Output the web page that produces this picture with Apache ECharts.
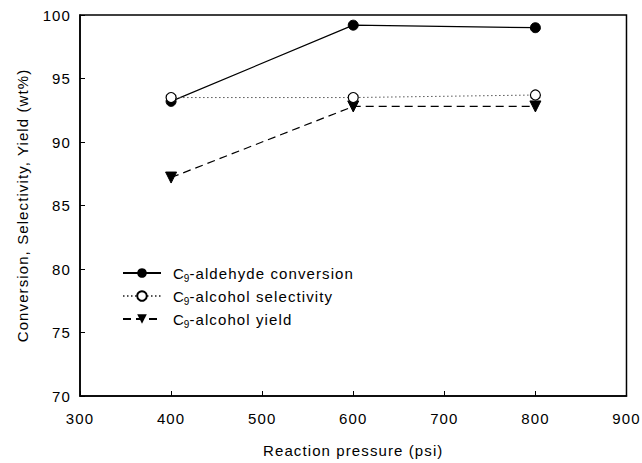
<!DOCTYPE html>
<html><head><meta charset="utf-8">
<script src="https://cdn.jsdelivr.net/npm/echarts@6/dist/echarts.min.js"></script>
<style>html,body{margin:0;padding:0;background:#fff}#c{width:642px;height:463px}#c svg text{letter-spacing:1.1px}</style>
</head><body><div id="c"></div>
<script>
var pressure = [400, 600, 800];
var conversion = [93.2, 99.2, 99.0];
var selectivity = [93.5, 93.5, 93.7];
var yieldVals = [87.2, 92.8, 92.8];
var seriesNames = ['C{s|9}-aldehyde conversion', 'C{s|9}-alcohol selectivity', 'C{s|9}-alcohol yield'];
var xTicks = [300, 900, 100];
var yTicks = [70, 100, 5];

function pairs(v){ return pressure.map(function(p,i){ return [p, v[i]]; }); }
var font = '"Liberation Sans", Arial, sans-serif';
var chart = echarts.init(document.getElementById('c'), null, { renderer: 'svg' });
chart.setOption({
  animation: false,
  backgroundColor: '#fff',
  grid: { left: 80, right: 14, top: 15, bottom: 65, show: true, borderColor: '#000', borderWidth: 1.5, backgroundColor: 'transparent' },
  legend: {
    orient: 'vertical', left: 122, top: 263, padding: 0, itemWidth: 38, itemHeight: 12, itemGap: 3,
    data: seriesNames,
    textStyle: { fontFamily: font, fontSize: 15, color: '#000', lineHeight: 20, padding: [0, 0, 0, 7],
      rich: { s: { fontSize: 10, lineHeight: 10, height: 10, verticalAlign: 'bottom', fontFamily: font, color:'#000' } } }
  },
  xAxis: {
    type: 'value', min: xTicks[0], max: xTicks[1], interval: xTicks[2],
    name: 'Reaction pressure (psi)', nameLocation: 'middle', nameGap: 47,
    nameTextStyle: { fontFamily: font, fontSize: 15, color: '#000' },
    axisLine: { lineStyle: { color: '#000', width: 1.5 } },
    axisTick: { inside: true, length: 5, lineStyle: { color: '#000' } },
    axisLabel: { margin: 15, fontFamily: font, fontSize: 15, color: '#000' },
    splitLine: { show: false }
  },
  yAxis: {
    type: 'value', min: yTicks[0], max: yTicks[1], interval: yTicks[2],
    name: 'Conversion, Selectivity, Yield (wt%)', nameLocation: 'middle', nameGap: 50,
    nameTextStyle: { fontFamily: font, fontSize: 15, color: '#000' },
    axisLine: { show: true, lineStyle: { color: '#000', width: 1.5 } },
    axisTick: { show: true, inside: true, length: 5, lineStyle: { color: '#000' } },
    axisLabel: { margin: 9, fontFamily: font, fontSize: 15, color: '#000' },
    splitLine: { show: false }
  },
  series: [
    { name: seriesNames[0], type: 'line', data: pairs(conversion), symbol: 'circle', symbolSize: 10,
      itemStyle: { color: '#000', borderColor: '#000' }, lineStyle: { color: '#000', width: 1.2, type: 'solid' }, z: 3 },
    { name: seriesNames[1], type: 'line', data: pairs(selectivity), symbol: 'circle', symbolSize: 10,
      itemStyle: { color: '#fff', borderColor: '#000', borderWidth: 1.2 }, lineStyle: { color: '#555', width: 1, type: [1.5, 2.5] }, z: 4 },
    { name: seriesNames[2], type: 'line', data: pairs(yieldVals), symbol: 'triangle', symbolSize: 11, symbolRotate: 180,
      itemStyle: { color: '#000', borderColor: '#000' }, lineStyle: { color: '#000', width: 1.2, type: [8, 5] }, z: 3 }
  ]
});
</script></body></html>
